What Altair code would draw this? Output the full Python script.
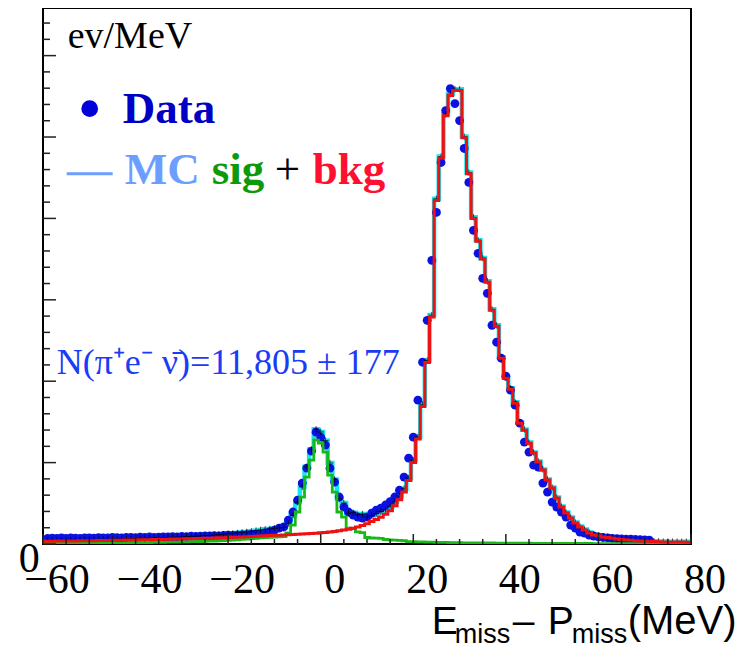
import altair as alt
import pandas as pd

# ---------------- data (1 MeV bins, 140 bins over the -60 .. 80 window) ----------------
bin_index = list(range(140))

signal = [8, 8, 9, 9, 10, 10, 10, 11, 11, 12, 12, 12, 13, 13, 14, 14, 15, 15, 16, 16,
          17, 18, 18, 19, 20, 21, 22, 23, 24, 25, 26, 28, 29, 31, 33,
          35, 37, 40, 42, 45, 48, 52, 56, 60, 65, 70, 76, 80,
          82, 85, 88, 92,
          135, 233, 393, 577, 822, 1030, 1276, 1239, 1129, 847, 638, 393, 331, 196,
          190, 150, 140, 80, 74, 72, 70, 55, 50, 48, 45, 40, 30, 28, 26, 25, 24,
          22, 21, 20, 19, 18, 17, 16, 15, 14, 14, 13, 13, 12, 12, 11, 11, 10,
          10, 10, 9, 9, 9, 8, 8, 8, 8, 7, 7, 7, 7, 6, 6, 6, 6, 6, 5, 5,
          5, 5, 5, 5, 5, 5, 4, 4, 4, 4, 4, 4, 4, 4, 4, 4, 4, 4, 4, 4]

background = [35, 35, 36, 36, 37, 38, 38, 39, 40, 40, 41, 42, 43, 44, 45, 46, 47, 48, 49, 50,
              51, 52, 53, 55, 56, 57, 58, 60, 61, 62, 64, 65, 67, 68, 70,
              72, 74, 76, 78, 80, 82, 84, 86, 88, 91, 94, 97, 100,
              103, 106, 109, 112, 115, 118, 121, 124, 127, 130, 133, 137,
              142, 148, 155, 163, 172, 182, 195, 210, 228, 250, 275, 300, 330, 365,
              410, 470, 545, 640, 780, 1000, 1290, 1690, 2230, 2790,
              4220, 4740, 5260, 5510, 5570, 5570, 4990, 4550, 4000, 3720,
              3500, 3215, 2871, 2675, 2282, 2037, 1902, 1730, 1485, 1399, 1239, 1117, 1006, 908,
              785, 687, 564, 454, 380, 319, 258, 209, 172, 135, 110, 100,
              86, 80, 70, 61, 55, 50, 45, 40, 37, 35, 33, 31, 28, 26, 25, 25, 24, 24, 23, 23]

data_vals = [70, 72, 68, 74, 70, 75, 72, 70, 76, 74, 72, 78, 75, 74, 80, 77, 76, 80, 82, 78,
             84, 80, 86, 82, 85, 88, 86, 90, 88, 92, 90, 95, 93, 96, 98,
             100, 102, 98, 105, 108, 104, 110, 112, 115, 118, 122, 128, 135,
             150, 170, 196, 209, 294, 393, 540, 748, 932, 1141, 1374, 1313, 1215, 932, 761, 577,
             454, 393, 356, 331, 319, 331, 380, 417, 440, 479, 520, 577, 660, 822, 1055, 1313,
             1767, 2233, 2748, 3485, 4074, 4687, 5325, 5595, 5411, 5202, 4859, 4442, 3853, 3571,
             3264, 3080, 2687, 2479, 2282, 2061, 1890, 1706, 1485, 1252, 1129, 969, 945, 748,
             638, 515, 454, 393, 331, 233, 196, 147, 135, 110, 98, 86,
             80, 75, 70, 66, 62, 60, 58, 55, 52, 50, 48,
             None, None, None, None, None, None, None, None, None]

x_tick_values = [-60, -40, -20, 0, 20, 40, 60, 80]
x_tick_labels = ["\u221260", "\u221240", "\u221220", "0", "20", "40", "60", "80"]

X_DOMAIN = [-60, 80]
Y_DOMAIN = [0, 6585]
W, H = 648, 536

# ---------------- tables ----------------
# bins are centred on integers -59 .. 80 (edges at half-integers)
centers = [i - 59 for i in bin_index]
total = [s + b for s, b in zip(signal, background)]

pts = pd.DataFrame({"x": centers, "data": data_vals, "total": total})
pts_data = pts.dropna(subset=["data"])

edges = [X_DOMAIN[0]] + [c - 0.5 for c in centers[1:]] + [X_DOMAIN[1]]
steps = pd.DataFrame({
    "x": edges,
    "sig": signal + [signal[-1]],
    "bkg": background + [background[-1]],
    "tot": total + [total[-1]],
})
xlab = pd.DataFrame({"v": x_tick_values, "t": x_tick_labels})

xs = alt.Scale(domain=X_DOMAIN, nice=False, zero=False)
ys = alt.Scale(domain=Y_DOMAIN, nice=False, zero=False)

base_steps = alt.Chart(steps)

tot_line = base_steps.mark_line(interpolate="step-after", color="#12e6ee",
                                strokeWidth=4.5, clip=True).encode(
    x=alt.X("x:Q", scale=xs, axis=None),
    y=alt.Y("tot:Q", scale=ys, axis=None))

data_pts = alt.Chart(pts_data).mark_circle(color="#0b12e0", size=78, opacity=1,
                                           clip=True).encode(
    x=alt.X("x:Q", scale=xs, axis=None), y=alt.Y("data:Q", scale=ys, axis=None))

crosses = alt.Chart(pts).mark_point(shape="M-1,0H1M0,-1V1", filled=False, color="black",
                                    strokeWidth=1, size=40, clip=True).encode(
    x=alt.X("x:Q", scale=xs, axis=None), y=alt.Y("total:Q", scale=ys, axis=None))

sig_line = base_steps.mark_line(interpolate="step-after", color="#18b818",
                                strokeWidth=2.8, clip=True).encode(
    x=alt.X("x:Q", scale=xs, axis=None), y=alt.Y("sig:Q", scale=ys, axis=None))

bkg_line = base_steps.mark_line(interpolate="step-after", color="#ee1111",
                                strokeWidth=3, clip=True).encode(
    x=alt.X("x:Q", scale=xs, axis=None), y=alt.Y("bkg:Q", scale=ys, axis=None))

# ---------------- inside tick marks (ROOT style) ----------------
y_minor = pd.DataFrame({"v": [v for v in range(0, 6586, 200) if v % 1000 != 0]})
y_major = pd.DataFrame({"v": [v for v in range(0, 6586, 1000)]})
x_minor = pd.DataFrame({"v": [v for v in range(-60, 81, 5) if v % 20 != 0]})
x_major = pd.DataFrame({"v": [v for v in range(-60, 81, 20)]})

ytm = alt.Chart(y_minor).mark_rule(color="#222", strokeWidth=1.5).encode(
    y=alt.Y("v:Q", scale=ys, axis=None), x=alt.value(0), x2=alt.value(7))
ytM = alt.Chart(y_major).mark_rule(color="#222", strokeWidth=1.5).encode(
    y=alt.Y("v:Q", scale=ys, axis=None), x=alt.value(0), x2=alt.value(13))
xtm = alt.Chart(x_minor).mark_rule(color="#222", strokeWidth=1.5).encode(
    x=alt.X("v:Q", scale=xs, axis=None), y=alt.value(H), y2=alt.value(H - 5))
xtM = alt.Chart(x_major).mark_rule(color="#222", strokeWidth=1.5).encode(
    x=alt.X("v:Q", scale=xs, axis=None), y=alt.value(H), y2=alt.value(H - 10))

ox, oy = 43.3, 7.3  # page position of plot origin

x_labels = alt.Chart(xlab).mark_text(font="Liberation Serif", fontSize=42, color="black",
                                     align="center", baseline="alphabetic", dx=14).encode(
    x=alt.X("v:Q", scale=xs, axis=None), y=alt.value(592 - oy), text="t:N")

# ---------------- texts ----------------
one = pd.DataFrame({"a": [0]})


def txt(s, x, y, size, color="black", font="Liberation Serif", weight="normal",
        style="normal", align="left"):
    return alt.Chart(one).mark_text(text=s, font=font, fontSize=size, color=color,
                                    fontWeight=weight, fontStyle=style, align=align,
                                    baseline="alphabetic").encode(
        x=alt.value(x), y=alt.value(y))


texts = [
    txt("0", 40 - ox, 571 - oy, 42, align="right"),
    txt("ev/MeV", 68 - ox, 47 - oy, 38),
    txt("Data", 123 - ox, 122 - oy, 45, color="#0000c4", weight="bold"),
    txt("MC", 125 - ox, 183 - oy, 45, color="#6c9eff", weight="bold"),
    txt("sig", 212 - ox, 183 - oy, 45, color="#0c9a0c", weight="bold"),
    txt("+", 275 - ox, 183 - oy, 45, color="black"),
    txt("bkg", 313 - ox, 183 - oy, 45, color="#ff1030", weight="bold"),
    txt("N(\u03c0\u207ae\u207b \u03bd\u0304)=11,805 \u00b1 177", 57 - ox, 373 - oy, 36,
        color="#1a3cf5"),
    txt("E", 432 - ox, 633 - oy, 39, font="Liberation Sans"),
    txt("miss", 455 - ox, 642 - oy, 27, font="Liberation Sans"),
    txt("\u2013", 513 - ox, 633 - oy, 39, font="Liberation Sans"),
    txt("P", 548 - ox, 633 - oy, 39, font="Liberation Sans"),
    txt("miss", 572 - ox, 642 - oy, 27, font="Liberation Sans"),
    txt("(MeV)", 628 - ox, 633 - oy, 40, font="Liberation Sans"),
]

legend_dot = alt.Chart(one).mark_circle(color="#0000d8", size=280, opacity=1).encode(
    x=alt.value(90 - ox), y=alt.value(108 - oy))
legend_line = alt.Chart(one).mark_rule(color="#6c9eff", strokeWidth=3).encode(
    x=alt.value(67 - ox), x2=alt.value(113 - ox), y=alt.value(173 - oy))

chart = alt.layer(
    tot_line, data_pts, crosses, sig_line, bkg_line,
    ytm, ytM, xtm, xtM, x_labels, legend_dot, legend_line, *texts
).properties(
    width=W, height=H,
    autosize=alt.AutoSizeParams(type="none"),
    padding={"left": 35, "top": 0, "right": 50, "bottom": 103},
).configure_view(stroke="black", strokeWidth=2)

chart.save("out.html", embed_options={"renderer": "svg", "actions": False})
